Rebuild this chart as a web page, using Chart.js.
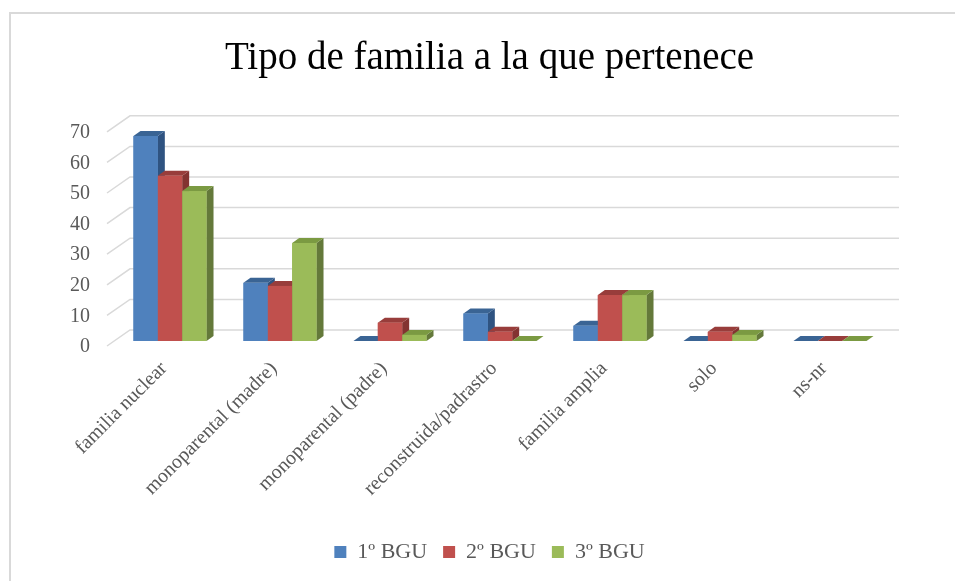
<!DOCTYPE html>
<html>
<head>
  <meta charset="utf-8">
  <title>Tipo de familia</title>
  <style>
    body { margin: 0; background: #fff; overflow: hidden; }
    #box { position: relative; width: 955px; height: 581px; }
  </style>
</head>
<body>
<div id="box"><canvas id="famChart"></canvas></div>

<script src="https://cdn.jsdelivr.net/npm/chart.js"></script>
<script type="text/javascript">
    // data
    const categories = ['familia nuclear', 'monoparental (madre)', 'monoparental (padre)',
      'reconstruida/padrastro', 'familia amplia', 'solo', 'ns-nr'];
    const seriesNames = ['1º BGU', '2º BGU', '3º BGU'];
    const bgu1 = [67, 19, 0, 9, 5, 0, 0];
    const bgu2 = [54, 18, 6, 3, 15, 3, 0];
    const bgu3 = [49, 32, 2, 0, 15, 2, 0];
    const yMin = 0, yMax = 70, yStep = 10;

    // colours: front, top, side
    const fronts = ['#4f81bd', '#c0504d', '#9bbb59'];
    const tops = ['#3a6494', '#983d3b', '#7b9a42'];
    const sides = ['#2f5381', '#833331', '#64793a'];

    const serif = "'Liberation Serif', 'DejaVu Serif', serif";
    const grey = '#595959';

    // frame + back wall gridlines (drawn before the bars)
    const wallPlugin = {
      id: 'wall',
      beforeDraw(chart) {
        const ctx = chart.ctx;
        ctx.save();
        ctx.strokeStyle = '#d9d9d9';
        ctx.lineWidth = 2;
        ctx.strokeRect(10, 13, 2000, 2000);
        ctx.restore();
      },
      beforeDatasetsDraw(chart) {
        const ctx = chart.ctx, ys = chart.scales.y, a = chart.chartArea;
        ctx.save();
        ctx.strokeStyle = '#d9d9d9';
        ctx.lineWidth = 1.5;
        ys.ticks.forEach(t => {
          const y = ys.getPixelForValue(t.value);
          ctx.beginPath();
          ctx.moveTo(a.left - 8, y + 5);
          ctx.lineTo(a.left + 15, y - 11);
          ctx.lineTo(a.right + 14, y - 11);
          ctx.stroke();
        });
        ctx.restore();
      }
    };

    // fake 3d: side + top + front, painted left to right
    const bar3dPlugin = {
      id: 'bar3d',
      afterDatasetsDraw(chart) {
        const ctx = chart.ctx;
        const dx = 7, dy = 5;
        ctx.save();
        for (let i = 0; i < chart.data.labels.length; i++) {
          for (let d = 0; d < chart.data.datasets.length; d++) {
            const bar = chart.getDatasetMeta(d).data[i];
            const p = bar.getProps(['x', 'y', 'base', 'width'], true);
            const l = p.x - p.width / 2, r = p.x + p.width / 2;
            ctx.fillStyle = sides[d];
            ctx.beginPath();
            ctx.moveTo(r, p.y); ctx.lineTo(r + dx, p.y - dy);
            ctx.lineTo(r + dx, p.base - dy); ctx.lineTo(r, p.base);
            ctx.closePath(); ctx.fill();
            ctx.fillStyle = tops[d];
            ctx.beginPath();
            ctx.moveTo(l, p.y); ctx.lineTo(r, p.y);
            ctx.lineTo(r + dx, p.y - dy); ctx.lineTo(l + dx, p.y - dy);
            ctx.closePath(); ctx.fill();
            ctx.fillStyle = fronts[d];
            ctx.fillRect(l, p.y, p.width, p.base - p.y);
          }
        }
        ctx.restore();
      }
    };

    const data = {
      labels: categories,
      datasets: [bgu1, bgu2, bgu3].map((vals, k) => ({
        label: seriesNames[k],
        data: vals,
        backgroundColor: fronts[k],
        borderWidth: 0,
        categoryPercentage: 0.664,
        barPercentage: 1.0
      }))
    };

    const config = {
      type: 'bar',
      data: data,
      plugins: [wallPlugin, bar3dPlugin],
      options: {
        responsive: true,
        maintainAspectRatio: false,
        animation: false,
        events: [],
        layout: { padding: { left: 24, right: 0, top: 0, bottom: 8 } },
        scales: {
          x: {
            grid: { display: false, drawTicks: false },
            border: { display: false },
            ticks: {
              minRotation: 45, maxRotation: 45, autoSkip: false,
              padding: 16, labelOffset: -6, color: grey,
              font: { family: serif, size: 20 }
            },
            afterFit(s) { s.height = 184; }
          },
          y: {
            min: yMin, max: yMax,
            grid: { display: false, drawTicks: false },
            border: { display: false },
            ticks: {
              stepSize: yStep, padding: 25, labelOffset: 6, color: grey,
              font: { family: serif, size: 20 }
            },
            afterFit(s) { s.width = 91; }
          },
          y2: {
            position: 'right',
            grid: { display: false, drawTicks: false },
            border: { display: false },
            ticks: { display: false },
            afterFit(s) { s.width = 70; }
          }
        },
        plugins: {
          title: {
            display: true,
            text: 'Tipo de familia a la que pertenece',
            color: '#000',
            font: { family: serif, size: 39, weight: 'normal' },
            padding: { top: 35, bottom: 45 }
          },
          legend: {
            position: 'bottom',
            labels: {
              boxWidth: 12, boxHeight: 12, padding: 16, color: grey,
              font: { family: serif, size: 22 }
            }
          },
          tooltip: { enabled: false }
        }
      }
    };

    const famChart = new Chart(document.getElementById('famChart'), config);
</script>
</body>
</html>
